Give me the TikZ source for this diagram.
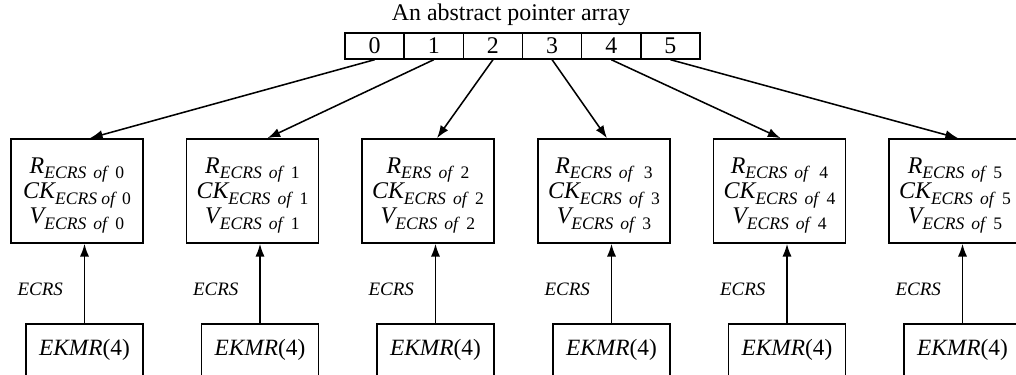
\documentclass[tikz,border=0pt]{standalone}
\usepackage{fontspec}
\setmainfont{Liberation Serif}
\usetikzlibrary{arrows.meta,calc}

\newcommand{\entry}[2]{{\itshape #1}\raisebox{-4pt}[\height][0pt]{\fontsize{12.5}{13}\selectfont\itshape #2}}

\tikzset{
  cell/.style={draw,line width=1pt,minimum width=1.479cm,minimum height=0.65cm,inner sep=0pt,font=\fontsize{17}{19}\selectfont},
  recbox/.style={draw,line width=1.2pt,minimum width=3.3cm,minimum height=2.6cm,inner sep=0pt,align=center,font=\fontsize{17}{18}\selectfont},
  srcbox/.style={draw,line width=1.2pt,anchor=north,minimum width=2.925cm,inner xsep=0pt,inner ysep=0.3cm,text height=0.5cm,text depth=1.5cm,font=\fontsize{16.6}{18}\selectfont},
  ptr/.style={line width=1.1pt,-{Latex[length=9pt,width=6.5pt]}}
}

\begin{document}
\begin{tikzpicture}[x=0.025cm,y=0.025cm]
\useasboundingbox (0,0) rectangle (1016,374);
\clip (0,0) rectangle (1016,374);

\node[font=\fontsize{17}{19}\selectfont] (title) at (511,359) {An abstract pointer array};

\foreach \i in {0,...,5}
  \node[cell] (c\i) at (374.6+59.17*\i,328) {\i};

\node[recbox] (m0) at (77,183) {\entry{R}{ECRS\hspace{5pt}of\hspace{6pt}\upshape 0}\\ \entry{CK}{ECRS\hspace{3pt}of\hspace{5pt}\upshape 0}\\ \entry{V}{ECRS\hspace{5pt}of\hspace{6pt}\upshape 0}};
\node[recbox] (m1) at (252.5,183) {\entry{R}{ECRS\hspace{5pt}of\hspace{6pt}\upshape 1}\\ \entry{CK}{ECRS\hspace{5pt}of\hspace{6pt}\upshape 1}\\ \entry{V}{ECRS\hspace{5pt}of\hspace{6pt}\upshape 1}};
\node[recbox] (m2) at (428,183) {\entry{R}{ERS\hspace{5pt}of\hspace{6pt}\upshape 2}\\ \entry{CK}{ECRS\hspace{5pt}of\hspace{6pt}\upshape 2}\\ \entry{V}{ECRS\hspace{5pt}of\hspace{6pt}\upshape 2}};
\node[recbox] (m3) at (604,183) {\entry{R}{ECRS\hspace{5pt}of\hspace{8pt}\upshape 3}\\ \entry{CK}{ECRS\hspace{5pt}of\hspace{6pt}\upshape 3}\\ \entry{V}{ECRS\hspace{5pt}of\hspace{6pt}\upshape 3}};
\node[recbox] (m4) at (779.5,183) {\entry{R}{ECRS\hspace{5pt}of\hspace{8pt}\upshape 4}\\ \entry{CK}{ECRS\hspace{5pt}of\hspace{6pt}\upshape 4}\\ \entry{V}{ECRS\hspace{5pt}of\hspace{6pt}\upshape 4}};
\node[recbox] (m5) at (955,183) {\entry{R}{ECRS\hspace{5pt}of\hspace{6pt}\upshape 5}\\ \entry{CK}{ECRS\hspace{5pt}of\hspace{6pt}\upshape 5}\\ \entry{V}{ECRS\hspace{5pt}of\hspace{6pt}\upshape 5}};

% array cells to records
\foreach \i/\dx in {0/13,1/15,2/9,3/3,4/1,5/3}
  \draw[ptr] (c\i.south) -- ($(m\i.north)+(\dx,0)$);

% sources under the records
\foreach \i in {0,...,5} {
  \node[srcbox] (e\i) at ($(m\i.south)+(7.5,-79)$) {\textit{EKMR}(4)};
  \draw[ptr] (e\i.north) -- (e\i.north |- m\i.south)
    node[pos=0.43,left=0.52cm,inner sep=0pt,font=\fontsize{13.5}{15}\selectfont\itshape] {ECRS};
}
\end{tikzpicture}
\end{document}
